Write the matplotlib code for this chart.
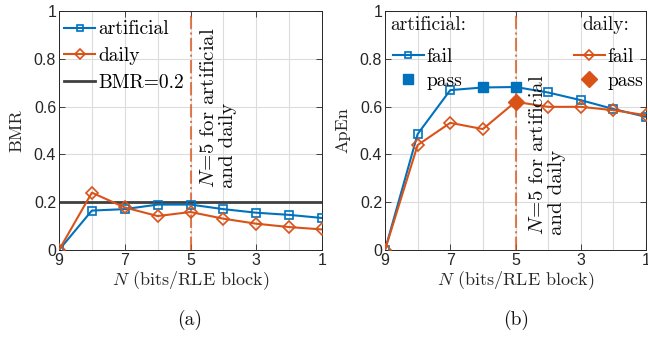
import matplotlib
matplotlib.use('Agg')
import matplotlib.pyplot as plt
from matplotlib.lines import Line2D

plt.rcParams['font.family'] = ['Liberation Sans', 'DejaVu Sans']
plt.rcParams['mathtext.fontset'] = 'cm'

N = [9, 8, 7, 6, 5, 4, 3, 2, 1]
bmr_artificial = [0.0, 0.165, 0.171, 0.19, 0.19, 0.171, 0.156, 0.147, 0.134]
bmr_daily = [0.0, 0.24, 0.178, 0.142, 0.159, 0.131, 0.11, 0.096, 0.086]
bmr_limit = 0.2

apen_artificial = [0.0, 0.485, 0.669, 0.68, 0.682, 0.659, 0.627, 0.59, 0.557]
apen_daily = [0.0, 0.439, 0.532, 0.506, 0.62, 0.599, 0.599, 0.585, 0.564]
pass_artificial = [6, 5]
pass_daily = [5]

blue = '#0072BD'
orange = '#D95319'
axcol = '#262626'
serif = 'cmr10'
note = r'$N\!=\!5$ for artificial' + '\n' + 'and daily'

fig = plt.figure(figsize=(6.48, 3.37), dpi=100)
ax1 = fig.add_axes([59/648, 1-250/337, 263/648, 239/337])
ax2 = fig.add_axes([385/648, 1-250/337, 261/648, 239/337])


def style(ax, ylabel):
    ax.set_xlim(9, 1)
    ax.set_ylim(0, 1)
    ax.set_xticks([9, 7, 5, 3, 1])
    ax.set_xticks([8, 6, 4, 2], minor=True)
    ax.set_yticks([0, 0.2, 0.4, 0.6, 0.8, 1])
    ax.set_yticklabels(['0', '0.2', '0.4', '0.6', '0.8', '1'])
    ax.tick_params(direction='in', top=True, right=True, length=4, width=0.6,
                   labelsize=11.5, colors=axcol, pad=2)
    ax.tick_params(which='minor', length=0)
    ax.grid(True, which='both', color='#dcdcdc', linewidth=0.8)
    ax.set_axisbelow(True)
    for s in ax.spines.values():
        s.set_color(axcol)
        s.set_linewidth(0.7)
    ax.set_xlabel(r'$N$ (bits/RLE block)', family=serif, fontsize=13, color=axcol, labelpad=1)
    ax.set_ylabel(ylabel, family=serif, fontsize=13, color=axcol, labelpad=7)
    ax.axvline(5, color=orange, alpha=0.75, linestyle='-.', linewidth=1.5, zorder=1)


leg_kw = dict(frameon=False, prop={'family': serif, 'size': 14}, handlelength=1.6,
              handletextpad=0.15, borderpad=0, borderaxespad=0)

# (a) BMR
style(ax1, 'BMR')
ax1.axhline(bmr_limit, color='#404040', linewidth=2, zorder=2)
ax1.plot(N, bmr_artificial, color=blue, marker='s', mfc='none', ms=5.8, mew=1.2, lw=1.5, zorder=3)
ax1.plot(N, bmr_daily, color=orange, marker='D', mfc='none', ms=6.5, mew=1.2, lw=1.5, zorder=3)
ax1.text(4.71, 0.26, note, rotation=90, family=serif, fontsize=15, ha='left', va='bottom',
         color='#111111', linespacing=1.1)
h_a = Line2D([], [], color=blue, marker='s', mfc='none', ms=4, mew=1.2, lw=1.5)
h_d = Line2D([], [], color=orange, marker='D', mfc='none', ms=5, mew=1.2, lw=1.5)
h_b = Line2D([], [], color='#404040', lw=2)
ax1.legend([h_a, h_d, h_b], ['artificial', 'daily', 'BMR=0.2'], loc='upper left',
           bbox_to_anchor=(0.02, 0.96), labelspacing=0.45, **leg_kw)

# (b) ApEn
style(ax2, 'ApEn')
ax2.plot(N, apen_artificial, color=blue, marker='s', mfc='none', ms=5.8, mew=1.2, lw=1.5, zorder=3)
ax2.plot(N, apen_daily, color=orange, marker='D', mfc='none', ms=6.5, mew=1.2, lw=1.5, zorder=3)
ax2.plot(pass_artificial, [apen_artificial[N.index(n)] for n in pass_artificial],
         ls='none', marker='s', color=blue, ms=7.5, zorder=4)
ax2.plot(pass_daily, [apen_daily[N.index(n)] for n in pass_daily],
         ls='none', marker='D', color=orange, ms=8, zorder=4)
ax2.text(4.586, 0.063, note, rotation=90, family=serif, fontsize=15, ha='left', va='bottom',
         color='#111111', linespacing=1.1)

ax2.text(0.02, 0.94, 'artificial:', transform=ax2.transAxes, family=serif, fontsize=14,
         ha='left', va='center', color='#111111')
ax2.text(0.757, 0.94, 'daily:', transform=ax2.transAxes, family=serif, fontsize=14,
         ha='left', va='center', color='#111111')

fail_a = Line2D([], [], color=blue, marker='s', mfc='none', ms=4, mew=1.2, lw=1.5)
pass_a = Line2D([], [], color=blue, marker='s', ls='none', ms=7.5)
fail_d = Line2D([], [], color=orange, marker='D', mfc='none', ms=5, mew=1.2, lw=1.5)
pass_d = Line2D([], [], color=orange, marker='D', ls='none', ms=8)
leg_a = ax2.legend([fail_a, pass_a], ['fail', 'pass'], loc='upper left',
                   bbox_to_anchor=(0.03, 0.845), labelspacing=0.3, **leg_kw)
ax2.add_artist(leg_a)
ax2.legend([fail_d, pass_d], ['fail', 'pass'], loc='upper right',
           bbox_to_anchor=(0.99, 0.845), labelspacing=0.3, **leg_kw)

fig.text(190/648, 1-320/337, '(a)', family=serif, fontsize=14, ha='center', va='center', color='#111111')
fig.text(516/648, 1-320/337, '(b)', family=serif, fontsize=14, ha='center', va='center', color='#111111')

fig.savefig('out.png', dpi=100)
